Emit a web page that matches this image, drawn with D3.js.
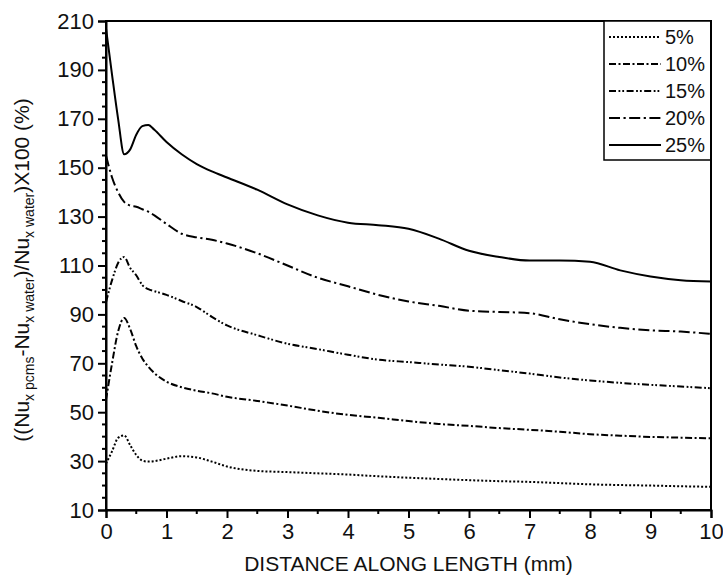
<!DOCTYPE html>
<html>
<head>
<meta charset="utf-8">
<script src="https://cdn.jsdelivr.net/npm/d3@7"></script>
<style>
  body { margin: 0; background: #fff; }
  svg text { font-family: "Liberation Sans", Arial, sans-serif; fill: #111; }
</style>
</head>
<body>
<svg id="chart" width="723" height="575"></svg>
<script>
// ---- data ----
const xValues = [0, 0.1, 0.2, 0.3, 0.4, 0.5, 0.6, 0.7, 0.8, 1.0, 1.25, 1.5, 1.75, 2.0, 2.5, 3.0, 3.5, 4.0, 4.5, 5.0, 5.5, 6.0, 6.5, 7.0, 7.5, 8.0, 8.5, 9.0, 9.5, 10];
const seriesNames = ["5%", "10%", "15%", "20%", "25%"];
const s5  = [29, 34, 39.5, 40.5, 36.5, 32.5, 30.2, 29.8, 30, 31, 32, 31.5, 29.8, 27.8, 26, 25.5, 25, 24.5, 23.8, 23.2, 22.7, 22.2, 21.8, 21.5, 21, 20.5, 20.2, 20, 19.7, 19.5];
const s10 = [55, 70, 83, 88.5, 84, 77, 72, 68.6, 66, 62.5, 60.2, 58.8, 57.7, 56.3, 54.6, 52.7, 50.6, 48.9, 47.7, 46.4, 45.2, 44.4, 43.5, 42.8, 42, 41, 40.4, 39.9, 39.6, 39.3];
const s15 = [95, 104, 111, 113.5, 109, 106, 102, 100.3, 99.5, 98, 95.5, 93, 89, 85.5, 81.5, 78, 75.8, 73.5, 71.5, 70.5, 69.5, 68.6, 67.2, 65.8, 64.2, 63, 62, 61.2, 60.5, 59.8];
const s20 = [155, 146, 140, 136, 134.5, 134, 133, 132, 130.5, 127, 123, 121.5, 120.5, 119, 115, 110, 105, 101.5, 98, 95.3, 93.5, 91.5, 91, 90.5, 88, 86, 84.5, 83.5, 83, 82];
const s25 = [207, 188, 170, 155.5, 157.5, 163.5, 167, 167.5, 165.5, 160.5, 155.5, 151.5, 148.5, 146, 141, 135, 130.5, 127.5, 126.5, 125, 121, 116, 113.5, 112, 112, 111.5, 108, 105.5, 104, 103.5];
const xTicks = [0, 1, 2, 3, 4, 5, 6, 7, 8, 9, 10];
const yTicks = [10, 30, 50, 70, 90, 110, 130, 150, 170, 190, 210];

// ---- styles ----
const dashes = ["2,2", "7,2.5,2,2.5", "7,2.5,1.8,2,1.8,2.5", "11,3.5,2.2,3.5", null];
const widths = [2, 2, 2, 2, 2];

const svg = d3.select("#chart");
const m = { left: 106, top: 21, right: 12, bottom: 65 };
const W = 723, H = 575;
const x = d3.scaleLinear().domain([0, 10]).range([m.left, W - m.right]);
const y = d3.scaleLinear().domain([10, 210]).range([H - m.bottom, m.top]);

const allSeries = [s5, s10, s15, s20, s25];
const line = d3.line().x(d => x(d[0])).y(d => y(d[1])).curve(d3.curveMonotoneX);

const plot = svg.append("g");
allSeries.forEach((vals, i) => {
  plot.append("path")
    .datum(xValues.map((xv, j) => [xv, vals[j]]))
    .attr("d", line)
    .attr("fill", "none")
    .attr("stroke", "#000")
    .attr("stroke-width", widths[i])
    .attr("stroke-dasharray", dashes[i]);
});

// frame
svg.append("rect")
  .attr("x", x(0)).attr("y", y(210))
  .attr("width", x(10) - x(0)).attr("height", y(10) - y(210))
  .attr("fill", "none").attr("stroke", "#000").attr("stroke-width", 2);

// x axis
const xAxis = d3.axisBottom(x).tickValues(xTicks).tickFormat(d3.format("d")).tickSize(8).tickPadding(5);
const gx = svg.append("g").attr("transform", `translate(0,${y(10)})`).call(xAxis);
gx.select(".domain").attr("stroke-width", 2);
gx.selectAll(".tick line").attr("stroke-width", 2);
gx.selectAll("text").attr("font-size", 22).attr("fill", "#111");
const xMinor = d3.range(0.5, 10, 1);
gx.selectAll(".minor").data(xMinor).enter().append("line")
  .attr("x1", d => x(d)).attr("x2", d => x(d))
  .attr("y1", 0).attr("y2", 4).attr("stroke", "#000").attr("stroke-width", 2);

// y axis
const yAxis = d3.axisLeft(y).tickValues(yTicks).tickSize(8).tickPadding(4);
const gy = svg.append("g").attr("transform", `translate(${x(0)},0)`).call(yAxis);
gy.select(".domain").attr("stroke-width", 2);
gy.selectAll(".tick line").attr("stroke-width", 2);
gy.selectAll("text").attr("font-size", 22).attr("fill", "#111");
const yMinor = d3.range(15, 210, 5).filter(v => (v - 10) % 20 !== 0);
gy.selectAll(".minor").data(yMinor).enter().append("line")
  .attr("x1", -4).attr("x2", 0)
  .attr("y1", d => y(d)).attr("y2", d => y(d)).attr("stroke", "#000").attr("stroke-width", 2);

// axis titles
svg.append("text")
  .attr("x", (x(0) + x(10)) / 2).attr("y", 571)
  .attr("text-anchor", "middle").attr("font-size", 21)
  .text("DISTANCE ALONG LENGTH (mm)");

const yt = svg.append("text")
  .attr("transform", `translate(29,270) rotate(-90)`)
  .attr("text-anchor", "middle").attr("font-size", 21);
const parts = [["((Nu", false], ["x pcms", true], ["-Nu", false], ["x water", true], [")/Nu", false], ["x water", true], [")X100 (%)", false]];
parts.forEach(([t, sub], i) => {
  const ts = yt.append("tspan").text(t);
  if (sub) ts.attr("font-size", 14).attr("dy", 5);
  else if (i > 0) ts.attr("dy", -5);
});

// legend
const lg = svg.append("g");
lg.append("rect").attr("x", 604).attr("y", y(210)).attr("width", x(10) - 604).attr("height", 139)
  .attr("fill", "#fff").attr("stroke", "#000").attr("stroke-width", 1.5);
seriesNames.forEach((name, i) => {
  const cy = 37 + i * 27;
  lg.append("line").attr("x1", 609).attr("x2", 661).attr("y1", cy).attr("y2", cy)
    .attr("stroke", "#000").attr("stroke-width", widths[i]).attr("stroke-dasharray", dashes[i]);
  lg.append("text").attr("x", 665).attr("y", cy).attr("dy", "0.36em")
    .attr("font-size", 20).text(name);
});
// redraw right frame edge over legend
svg.append("line").attr("x1", x(10)).attr("x2", x(10)).attr("y1", y(210)).attr("y2", y(10))
  .attr("stroke", "#000").attr("stroke-width", 2);
</script>
</body>
</html>
